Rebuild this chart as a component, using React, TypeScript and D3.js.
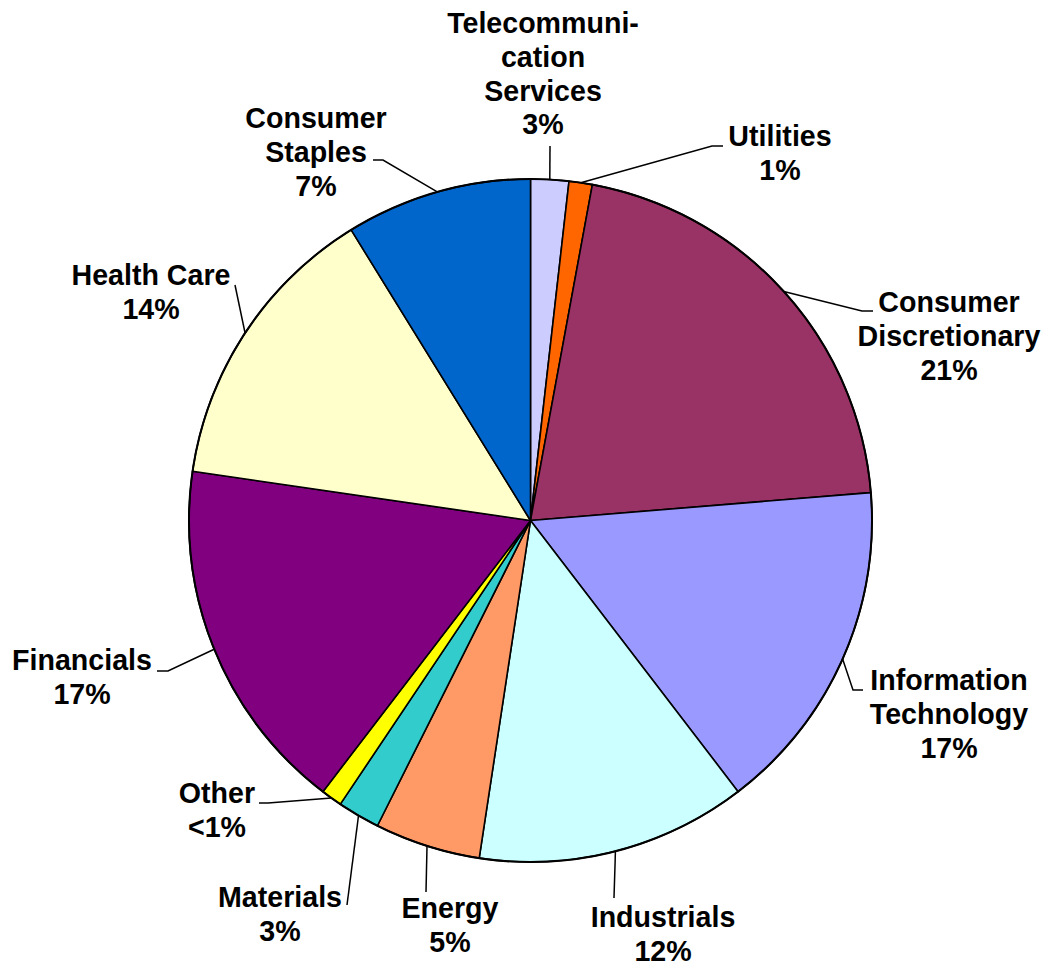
import * as d3 from 'd3';

const width = 1049;
const height = 967;
const center = { x: 530.5, y: 520.5 };
const radius = 341.5;

// sector names, read clockwise from 12 o'clock
const sectors = [
  'Telecommunication Services',
  'Utilities',
  'Consumer Discretionary',
  'Information Technology',
  'Industrials',
  'Energy',
  'Materials',
  'Other',
  'Financials',
  'Health Care',
  'Consumer Staples',
];
// slice sizes (% of portfolio) as measured from the pie
const weights = [1.8, 1.1, 20.8, 15.9, 12.8, 5.0, 2.0, 1.0, 16.9, 13.9, 8.8];
// the printed percentage labels
const pctLabels = ['3%', '1%', '21%', '17%', '12%', '5%', '3%', '<1%', '17%', '14%', '7%'];
// label text broken into lines as shown
const labelLines = [
  ['Telecommuni-', 'cation', 'Services'],
  ['Utilities'],
  ['Consumer', 'Discretionary'],
  ['Information', 'Technology'],
  ['Industrials'],
  ['Energy'],
  ['Materials'],
  ['Other'],
  ['Financials'],
  ['Health Care'],
  ['Consumer', 'Staples'],
];
const colors = [
  '#CCCCFF', '#FF6600', '#993366', '#9999FF', '#CCFFFF', '#FF9966',
  '#33CCCC', '#FFFF00', '#800080', '#FFFFCC', '#0066CC',
];

// label layout: text centre x, first baseline y, leader bend points
const layout = [
  { x: 543, y: 33, leader: [[550, 146]] },
  { x: 780, y: 146, leader: [[712, 146], [723, 146]] },
  { x: 949, y: 312, leader: [[862, 311], [873, 311]] },
  { x: 949, y: 690, leader: [[853, 690], [863, 690]] },
  { x: 663, y: 927, leader: [[614, 898]] },
  { x: 450, y: 918, leader: [[426, 892]] },
  { x: 280, y: 907, leader: [[347, 905]] },
  { x: 217, y: 803, leader: [[268, 803], [259, 803]] },
  { x: 82, y: 670, leader: [[168, 671], [157, 671]] },
  { x: 151, y: 285, leader: [[235, 285]] },
  { x: 316, y: 128, leader: [[383, 160], [373, 160]] },
];

const lineHeight = 33.8;

export default function App() {
  const pie = d3
    .pie<number>()
    .sort(null)
    .value((d) => d);
  const arcs = pie(weights);
  const arc = d3.arc<d3.PieArcDatum<number>>().innerRadius(0).outerRadius(radius);

  return (
    <svg
      width={width}
      height={height}
      style={{ position: 'absolute', left: 0, top: 0, background: '#fff' }}
      fontFamily="'Liberation Sans', Arial, sans-serif"
    >
      <g transform={`translate(${center.x},${center.y})`}>
        {arcs.map((a, i) => (
          <path
            key={sectors[i]}
            d={arc(a) ?? ''}
            fill={colors[i]}
            stroke="#000"
            strokeWidth={1.6}
            strokeLinejoin="round"
          />
        ))}
        <circle r={radius} fill="none" stroke="#000" strokeWidth={2} />
      </g>
      <g className="leaders" fill="none" stroke="#000" strokeWidth={1.5}>
        {arcs.map((a, i) => {
          const mid = (a.startAngle + a.endAngle) / 2;
          const sx = center.x + radius * Math.sin(mid);
          const sy = center.y - radius * Math.cos(mid);
          const pts: [number, number][] = [[sx, sy], ...(layout[i].leader as [number, number][])];
          return <path key={sectors[i]} d={d3.line()(pts) ?? ''} />;
        })}
      </g>
      <g className="labels" fontSize={28.6} fontWeight="bold" textAnchor="middle" fill="#000">
        {labelLines.map((lines, i) => (
          <text key={sectors[i]} x={layout[i].x} y={layout[i].y}>
            {[...lines, pctLabels[i]].map((t, j) => (
              <tspan key={j} x={layout[i].x} y={layout[i].y + j * lineHeight}>
                {t}
              </tspan>
            ))}
          </text>
        ))}
      </g>
    </svg>
  );
}
